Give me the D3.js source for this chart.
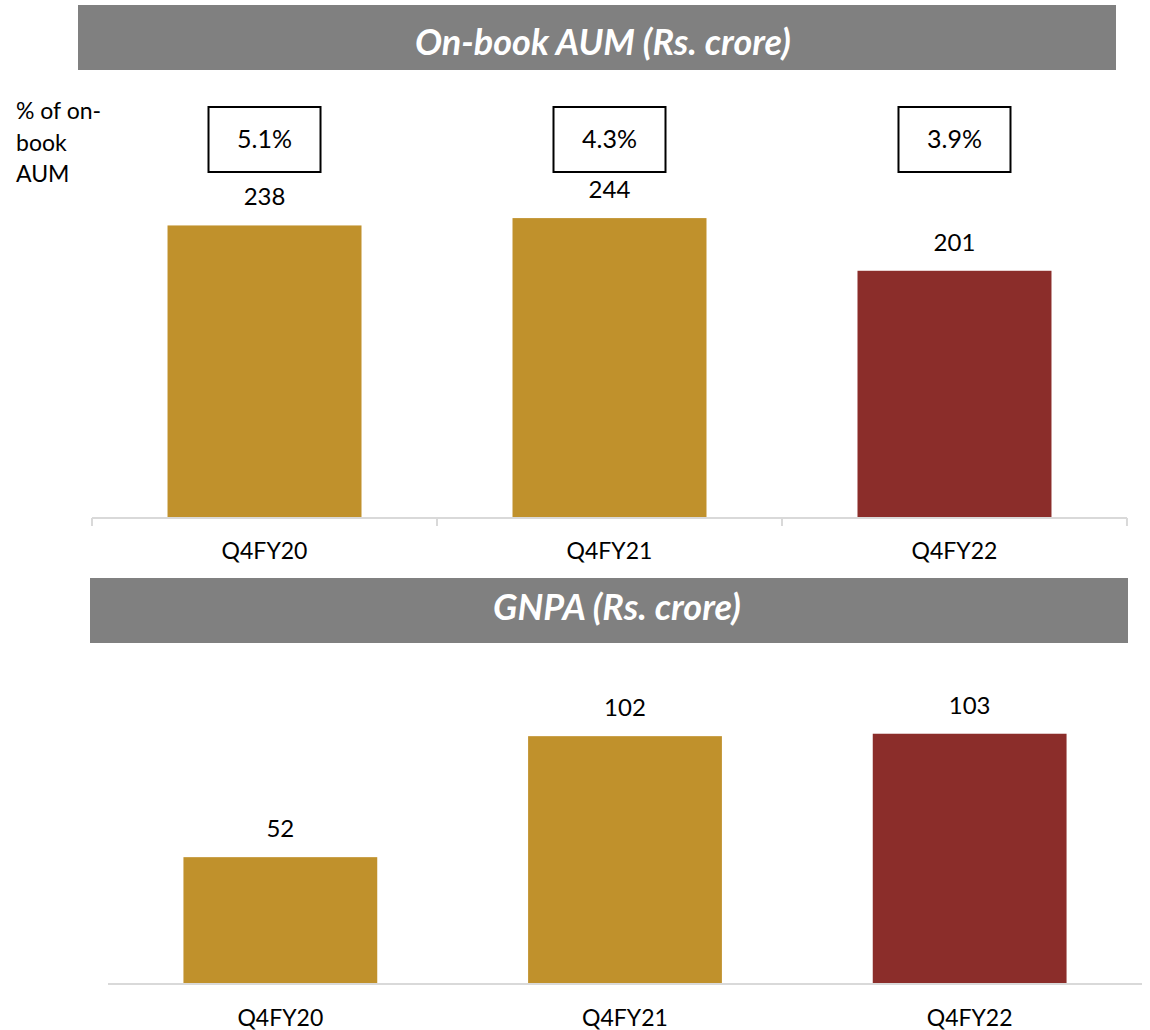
<!DOCTYPE html>
<html>
<head>
<meta charset="utf-8">
<script src="https://cdn.jsdelivr.net/npm/d3@7"></script>
<style>
  html, body { margin: 0; padding: 0; background: #ffffff; }
  svg { display: block; }
  text { font-family: Lato, "Open Sans", sans-serif; }
</style>
</head>
<body>
<script>
// Categories and values
const categories = ["Q4FY20", "Q4FY21", "Q4FY22"];
const aumValues = [238, 244, 201];
const aumShare = ["5.1%", "4.3%", "3.9%"];
const gnpaValues = [52, 102, 103];
const titles = ["On-book AUM (Rs. crore)", "GNPA (Rs. crore)"];
const shareNote = ["% of on-", "book", "AUM"];

const GOLD = "#C0912C";
const RED = "#8B2D2A";
const BANNER = "#808080";
const AXIS = "#D9D9D9";

const W = 1150, H = 1030;
const svg = d3.select("body").append("svg").attr("width", W).attr("height", H);

const barColor = (d, i) => i === categories.length - 1 ? RED : GOLD;

function banner(x0, x1, y0, y1, label, baseline, shift) {
  svg.append("rect")
    .attr("x", x0).attr("y", y0)
    .attr("width", x1 - x0).attr("height", y1 - y0)
    .attr("fill", BANNER);
  svg.append("text")
    .attr("x", (x0 + x1) / 2 + shift)
    .attr("y", baseline)
    .attr("text-anchor", "middle")
    .attr("fill", "#ffffff")
    .attr("font-size", 36)
    .attr("font-weight", 700)
    .attr("font-style", "italic")
    .text(label);
}

function barPanel(values, opts) {
  const x = d3.scaleBand()
    .domain(categories)
    .range([opts.x0, opts.x1])
    .paddingInner(0.4377)
    .paddingOuter(0.2189);
  const y = d3.scaleLinear()
    .domain([0, opts.yMax])
    .range([opts.base, opts.top]);

  const g = svg.append("g");

  g.selectAll("rect.bar")
    .data(values)
    .join("rect")
    .attr("class", "bar")
    .attr("x", (d, i) => x(categories[i]))
    .attr("y", d => y(d))
    .attr("width", x.bandwidth())
    .attr("height", d => y(0) - y(d))
    .attr("fill", barColor);

  // Category axis
  const axis = d3.axisBottom(x).tickSize(0).tickPadding(opts.labelPad);
  const ag = g.append("g")
    .attr("transform", `translate(0,${y(0) + 1})`)
    .call(axis);
  ag.select(".domain").attr("stroke", AXIS).attr("stroke-width", 2)
    .attr("d", `M${opts.x0},0H${opts.x1}`);
  ag.selectAll(".tick text")
    .attr("font-size", 23)
    .attr("fill", "#000000");

  if (opts.dividers) {
    const step = x.step();
    const bounds = d3.range(categories.length + 1).map(k => opts.x0 + k * step);
    ag.selectAll("line.div")
      .data(bounds)
      .join("line")
      .attr("class", "div")
      .attr("x1", d => d).attr("x2", d => d)
      .attr("y1", 0).attr("y2", 8)
      .attr("stroke", AXIS).attr("stroke-width", 2);
  }

  // Value labels
  g.selectAll("text.val")
    .data(values)
    .join("text")
    .attr("class", "val")
    .attr("x", (d, i) => x(categories[i]) + x.bandwidth() / 2)
    .attr("y", d => y(d) - 20)
    .attr("text-anchor", "middle")
    .attr("font-size", 24)
    .attr("fill", "#000000")
    .text(d => d);

  return x;
}

// Top panel: on-book AUM
banner(78, 1116, 5, 70, titles[0], 55, 6);
const xTop = barPanel(aumValues, {
  x0: 92, x1: 1127, base: 517, top: 149.5, yMax: 300, labelPad: 25, dividers: true
});

// Share-of-AUM boxes
const boxW = 112, boxH = 65, boxY = 107;
const boxes = svg.append("g");
boxes.selectAll("rect")
  .data(aumShare)
  .join("rect")
  .attr("x", (d, i) => xTop(categories[i]) + xTop.bandwidth() / 2 - boxW / 2)
  .attr("y", boxY)
  .attr("width", boxW).attr("height", boxH)
  .attr("fill", "none")
  .attr("stroke", "#000000")
  .attr("stroke-width", 2);
boxes.selectAll("text")
  .data(aumShare)
  .join("text")
  .attr("x", (d, i) => xTop(categories[i]) + xTop.bandwidth() / 2)
  .attr("y", boxY + 41)
  .attr("text-anchor", "middle")
  .attr("font-size", 25)
  .attr("fill", "#000000")
  .text(d => d);

svg.append("text")
  .attr("x", 16)
  .attr("font-size", 23)
  .attr("fill", "#000000")
  .selectAll("tspan")
  .data(shareNote)
  .join("tspan")
  .attr("x", 16)
  .attr("y", (d, i) => 119 + i * 31.5)
  .text(d => d);

// Bottom panel: GNPA
banner(90, 1128, 578, 643, titles[1], 620, 8);
barPanel(gnpaValues, {
  x0: 108, x1: 1142, base: 983, top: 692.6, yMax: 120, labelPad: 26, dividers: false
});
</script>
</body>
</html>
